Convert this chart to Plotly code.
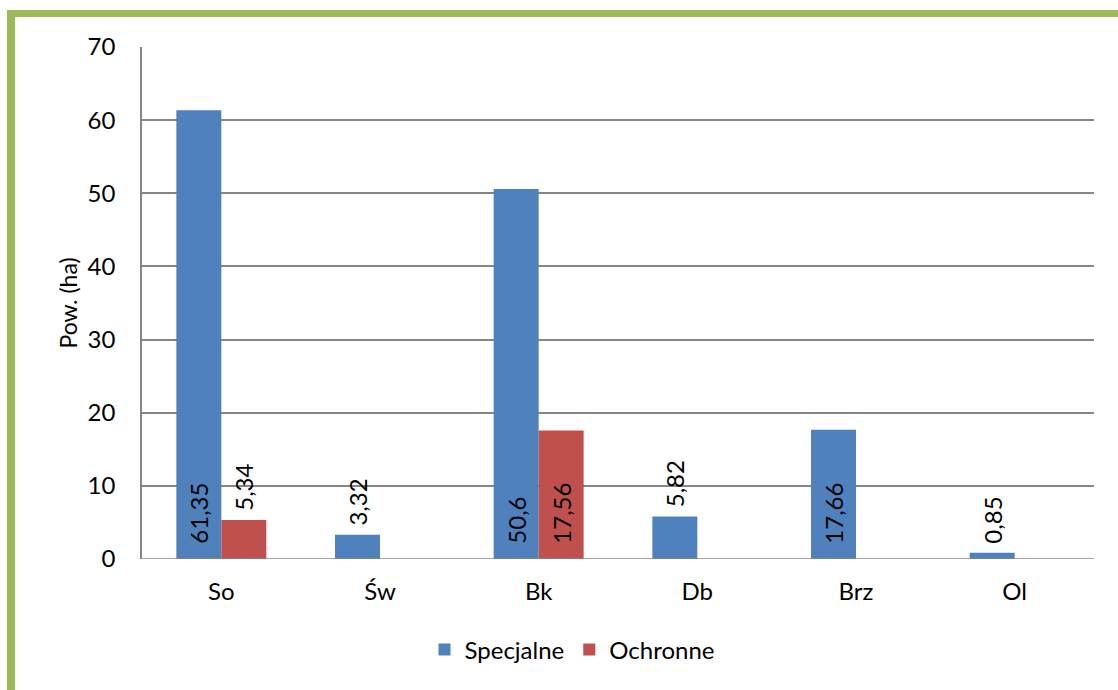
import plotly.graph_objects as go

categories = ["So", "Św", "Bk", "Db", "Brz", "Ol"]
specjalne = [61.35, 3.32, 50.6, 5.82, 17.66, 0.85]
ochronne = [5.34, None, 17.56, None, None, None]
y_ticks = [0, 10, 20, 30, 40, 50, 60, 70]

FONT = "Lato, 'Open Sans', sans-serif"
BLUE = "#4F81BD"
RED = "#C0504D"
GREEN = "#9BBB59"

W, H = 1118, 690
L, R, T, B = 142, 24, 47, 131
PW = W - L - R
PH = H - T - B


def fmt(v):
    return f"{v:g}".replace(".", ",")


def labels(vals):
    txt, pos = [], []
    for v in vals:
        if v is None:
            txt.append("")
            pos.append("none")
        elif v > 10:
            txt.append("\u00a0\u00a0" + fmt(v))
            pos.append("inside")
        else:
            txt.append("\u00a0" + fmt(v))
            pos.append("outside")
    return txt, pos


def px_x(p):
    return (p - L) / PW


def px_y(p):
    return (H - B - p) / PH


fig = go.Figure()
for name, vals, col in [("Specjalne", specjalne, BLUE), ("Ochronne", ochronne, RED)]:
    txt, pos = labels(vals)
    fig.add_trace(go.Bar(
        name=name, x=categories, y=vals, marker=dict(color=col, line=dict(width=0)),
        text=txt, textposition=pos, textangle=-90, insidetextanchor="start",
        textfont=dict(family=FONT, size=24, color="black"),
        constraintext="none", cliponaxis=False,
    ))

fig.update_layout(
    width=W, height=H,
    margin=dict(l=L, r=R, t=T, b=B, autoexpand=False),
    paper_bgcolor="white", plot_bgcolor="white",
    barmode="group", bargap=0.433, bargroupgap=0,
    font=dict(family=FONT, size=24, color="black"),
    showlegend=True,
    legend=dict(orientation="h", x=px_x(572), xanchor="center", y=px_y(650), yanchor="middle",
                font=dict(family=FONT, size=24, color="black"), itemclick=False,
                bgcolor="rgba(0,0,0,0)", traceorder="normal"),
    xaxis=dict(showgrid=False, showline=False, ticks="", ticklabelstandoff=16,
               tickfont=dict(family=FONT, size=24, color="black"), automargin=False,
               zeroline=False),
    yaxis=dict(range=[0, 70], tickvals=y_ticks, showgrid=True, gridcolor="#868686",
               gridwidth=1.5, showline=True, linecolor="#868686", linewidth=1.5,
               ticks="", ticklabelstandoff=20, zeroline=False,
               tickfont=dict(family=FONT, size=24, color="black"), automargin=False,
               title=dict(text="Pow. (ha)", font=dict(family=FONT, size=23, color="black"),
                          standoff=4)),
    shapes=[
        dict(type="rect", xref="paper", yref="paper", x0=px_x(7), x1=px_x(15),
             y0=px_y(720), y1=px_y(10), fillcolor=GREEN, line=dict(width=0), layer="above"),
        dict(type="rect", xref="paper", yref="paper", x0=px_x(7), x1=px_x(1140),
             y0=px_y(17), y1=px_y(10), fillcolor=GREEN, line=dict(width=0), layer="above"),
        dict(type="line", xref="paper", yref="y", x0=0, x1=1, y0=0, y1=0,
             line=dict(color="#868686", width=1.5), layer="above"),
    ],
)

fig.write_html("out.html", config={"displayModeBar": False},
               post_script="document.body.style.margin='0';document.body.style.padding='0';document.body.style.overflow='hidden';")
